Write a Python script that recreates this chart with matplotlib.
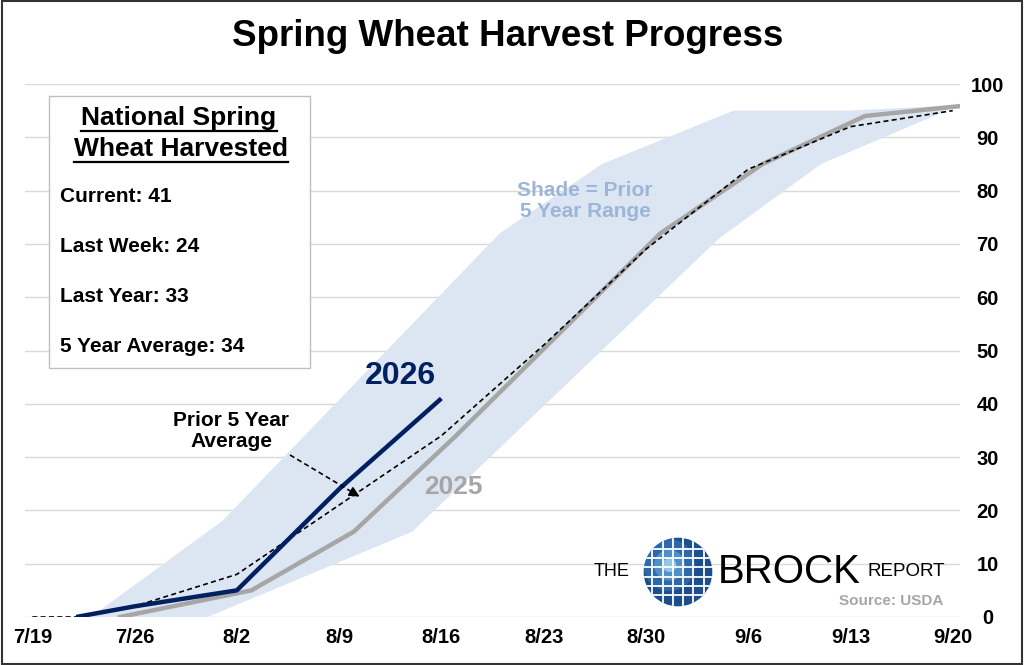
import matplotlib
matplotlib.use('Agg')
import matplotlib.pyplot as plt
import numpy as np
import pandas as pd
from matplotlib.patches import Rectangle, Circle
from matplotlib.lines import Line2D

plt.rcParams['font.family'] = ['Liberation Sans', 'DejaVu Sans']

# ---- data (month/day, % harvested) ----
week_labels = ['7/19', '7/26', '8/2', '8/9', '8/16', '8/23', '8/30', '9/6', '9/13', '9/20']

dates_2026 = ['7/22', '7/26', '8/2', '8/9', '8/16']
pct_2026 = [0, 2, 5, 24, 41]

dates_2025 = ['7/25', '8/3', '8/10', '8/17', '8/24', '8/31', '9/7', '9/14', '9/21']
pct_2025 = [0, 5, 16, 34, 53, 72, 85, 94, 96]

dates_avg = ['7/19', '7/22', '7/26', '8/2', '8/9', '8/16', '8/23', '8/30', '9/6', '9/13', '9/20']
pct_avg = [0, 0, 2, 8, 21, 34, 51, 69, 84, 92, 95]

dates_hi = ['7/23', '8/1', '8/20', '8/27', '9/5', '9/13', '9/20']
pct_hi = [0, 18, 72, 85, 95, 95, 96]
dates_lo = ['7/24', '7/31', '8/7', '8/14', '9/4', '9/11', '9/20']
pct_lo = [0, 0, 8, 16, 71, 85, 95.5]

stat_names = ['Current', 'Last Week', 'Last Year', '5 Year Average']
stat_values = [41, 24, 33, 34]


def to_dates(labels):
    return pd.to_datetime(['2026/' + s for s in labels], format='%Y/%m/%d')


def px(x, y):
    # pixel position in the 1024x665 image -> figure fraction
    return (x / 1024, 1 - y / 665)


NAVY = '#002060'
GRAY = '#A6A6A6'
BAND = '#DCE6F2'

fig = plt.figure(figsize=(10.24, 6.65), dpi=100)
ax = fig.add_axes([25 / 1024, 1 - 617 / 665, 935 / 1024, 533 / 665])

# shaded prior 5 year range
hi_x, lo_x = to_dates(dates_hi), to_dates(dates_lo)
poly_x = list(hi_x) + list(lo_x[::-1])
poly_y = pct_hi + pct_lo[::-1]
ax.fill(poly_x, poly_y, color=BAND, lw=0, zorder=1)

ax.plot(to_dates(dates_2025), pct_2025, color=GRAY, lw=3.2, zorder=2,
        solid_joinstyle='round')
ax.plot(to_dates(dates_avg), pct_avg, color='black', lw=1.2, ls=(0, (3, 2)), zorder=3)
ax.plot(to_dates(dates_2026), pct_2026, color=NAVY, lw=3.2, zorder=4,
        solid_joinstyle='round', solid_capstyle='butt')

week_dates = to_dates(week_labels)
ax.set_xlim(week_dates[0] - pd.Timedelta(hours=12), week_dates[-1] + pd.Timedelta(hours=12))
ax.set_ylim(0, 100)
ax.set_xticks(week_dates)
ax.set_xticklabels(week_labels, fontsize=14.5, fontweight='bold')
ax.set_yticks(range(0, 101, 10))
ax.yaxis.tick_right()
ax.tick_params(axis='y', length=0, pad=20, labelsize=14.5)
ax.tick_params(axis='x', length=0, pad=8)
for t in ax.yaxis.get_major_ticks():
    t.label2.set_ha('center')
    t.label2.set_fontweight('bold')
ax.grid(axis='y', color='#D9D9D9', lw=1)
ax.set_axisbelow(True)
for s in ax.spines.values():
    s.set_visible(False)

# title
fig.text(*px(508, 37), 'Spring Wheat Harvest Progress', fontsize=26.5,
         fontweight='bold', ha='center', va='center')

# stats box
fig.patches.append(Rectangle(px(49, 368), 261 / 1024, 272 / 665, transform=fig.transFigure,
                             fill=True, fc='white', ec='#BFBFBF', lw=1, zorder=5))
head1 = fig.text(*px(179, 118), 'National Spring', fontsize=19, fontweight='bold',
                 ha='center', va='center', zorder=6)
head2 = fig.text(*px(181, 149), 'Wheat Harvested', fontsize=19, fontweight='bold',
                 ha='center', va='center', zorder=6)
stat_y = [197, 246, 296, 347]
for name, val, y in zip(stat_names, stat_values, stat_y):
    fig.text(*px(60, y), f'{name}: {val}', fontsize=15, fontweight='bold',
             ha='left', va='center', zorder=6)

# annotations
fig.text(*px(400, 376), '2026', fontsize=23, fontweight='bold', color=NAVY,
         ha='center', va='center')
fig.text(*px(453, 487), '2025', fontsize=19, fontweight='bold', color=GRAY,
         ha='center', va='center')
fig.text(*px(231, 431), 'Prior 5 Year\nAverage', fontsize=15, fontweight='bold',
         ha='center', va='center', linespacing=1.15)
fig.text(*px(585, 201), 'Shade = Prior\n5 Year Range', fontsize=15, fontweight='bold',
         color='#9DB5D8', ha='center', va='center', linespacing=1.15)
fig.add_artist(Line2D([290 / 1024, 352 / 1024], [1 - 455 / 665, 1 - 492 / 665],
                      transform=fig.transFigure, color='black', lw=1.2, ls=(0, (3, 2))))
ax.annotate('', xy=px(362, 498), xytext=px(350, 491), xycoords='figure fraction',
            textcoords='figure fraction',
            arrowprops=dict(arrowstyle='-|>,head_length=0.6,head_width=0.3',
                            color='black', lw=1.2))

# logo
fig.text(*px(612, 572), 'THE', fontsize=13, ha='center', va='center')
fig.text(*px(789, 572), 'BROCK', fontsize=29, ha='center', va='center')
fig.text(*px(906, 572), 'REPORT', fontsize=13.5, ha='center', va='center')
fig.text(*px(943, 601), 'Source: USDA', fontsize=11, fontweight='bold', color=GRAY,
         ha='right', va='center')
gax = fig.add_axes([643 / 1024, 1 - 607 / 665, 70 / 1024, 70 / 665])
gax.set_xlim(-1.02, 1.02)
gax.set_ylim(-1.02, 1.02)
gax.set_aspect('equal')
gax.axis('off')
globe = Circle((0, 0), 1, fc='#1D4E8C', ec='none')
gax.add_patch(globe)
for r, c, a in [(0.75, '#2F6DAE', 0.9), (0.45, '#5A9AD0', 0.8), (0.2, '#A9D2F0', 0.8)]:
    p = Circle((-0.25, 0.2), r, fc=c, ec='none', alpha=a)
    gax.add_patch(p)
    p.set_clip_path(globe)
for k in np.linspace(-0.75, 0.75, 6):
    for ln in (gax.plot([k, k], [-1, 1], color='white', lw=1.3)[0],
               gax.plot([-1, 1], [k * 0.9, k * 0.9], color='white', lw=1.3)[0]):
        ln.set_clip_path(globe)

# underline headings
fig.canvas.draw()
inv = fig.transFigure.inverted()
for h in (head1, head2):
    bb = h.get_window_extent()
    (x0, y0), (x1, _) = inv.transform([[bb.x0, bb.y0 - 1], [bb.x1, bb.y1]])
    fig.add_artist(Line2D([x0, x1], [y0, y0], transform=fig.transFigure,
                          color='black', lw=1.6, zorder=6))

# outer frame
fig.patches.append(Rectangle((0.0015, 0.002), 0.997, 0.996, transform=fig.transFigure,
                             fill=False, ec='#333333', lw=1.5))

fig.savefig('out.png', dpi=100)
